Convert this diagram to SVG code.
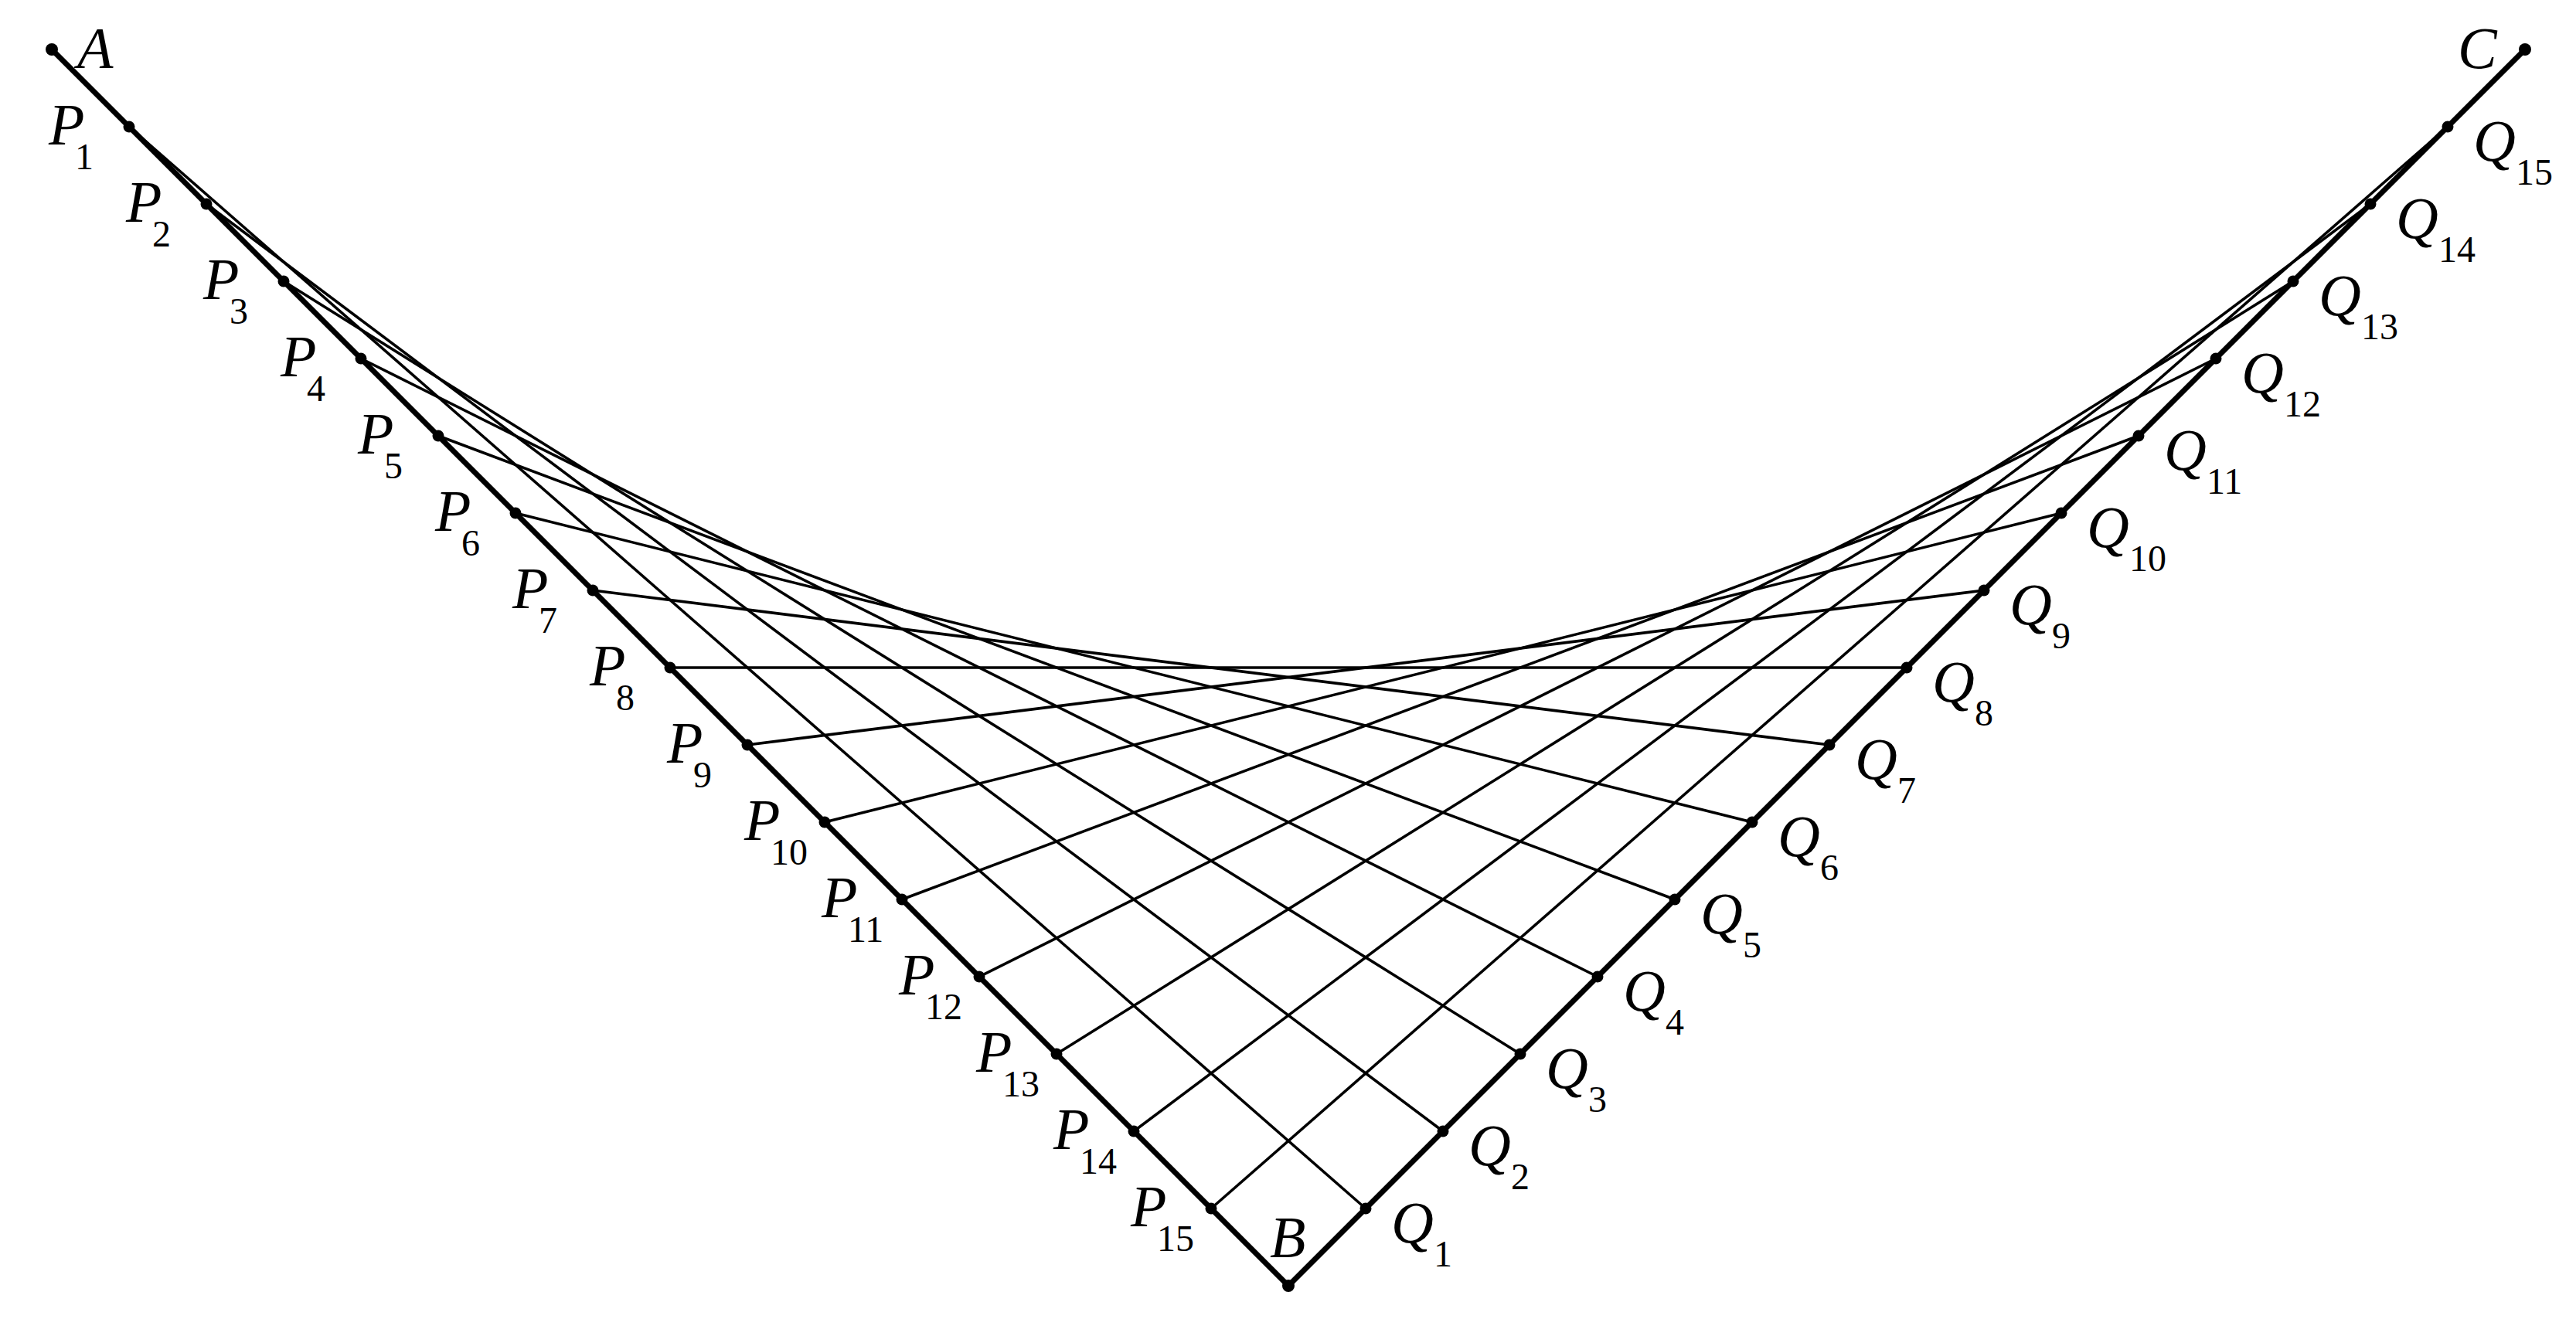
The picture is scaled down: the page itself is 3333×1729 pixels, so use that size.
<svg xmlns="http://www.w3.org/2000/svg" width="3333" height="1729" viewBox="0 0 3333 1729">
<style>
.thin{stroke:#000;stroke-width:3.5;fill:none}
.thick{stroke:#000;stroke-width:7;fill:none;stroke-linejoin:miter}
.dot{fill:#000}
text{font-family:'Liberation Serif',serif;font-style:italic;font-size:76px;fill:#000}
.sub{font-style:normal;font-size:48px}
</style>
<rect width="3333" height="1729" fill="#fff"/>
<g id="connectors">
<line class="thin" x1="167" y1="164" x2="1767" y2="1564"/>
<line class="thin" x1="267" y1="264" x2="1867" y2="1464"/>
<line class="thin" x1="367" y1="364" x2="1967" y2="1364"/>
<line class="thin" x1="467" y1="464" x2="2067" y2="1264"/>
<line class="thin" x1="567" y1="564" x2="2167" y2="1164"/>
<line class="thin" x1="667" y1="664" x2="2267" y2="1064"/>
<line class="thin" x1="767" y1="764" x2="2367" y2="964"/>
<line class="thin" x1="867" y1="864" x2="2467" y2="864"/>
<line class="thin" x1="967" y1="964" x2="2567" y2="764"/>
<line class="thin" x1="1067" y1="1064" x2="2667" y2="664"/>
<line class="thin" x1="1167" y1="1164" x2="2767" y2="564"/>
<line class="thin" x1="1267" y1="1264" x2="2867" y2="464"/>
<line class="thin" x1="1367" y1="1364" x2="2967" y2="364"/>
<line class="thin" x1="1467" y1="1464" x2="3067" y2="264"/>
<line class="thin" x1="1567" y1="1564" x2="3167" y2="164"/>
<polyline class="thick" points="67,64 1667,1664 3267,64"/>
</g>
<g id="A"><circle class="dot" cx="67" cy="64" r="8"/><text x="100" y="88">A</text></g>
<g id="B"><circle class="dot" cx="1667" cy="1664" r="8"/><text x="1643" y="1627">B</text></g>
<g id="C"><circle class="dot" cx="3267" cy="64" r="8"/><text x="3180" y="88">C</text></g>
<g id="P1"><circle class="dot" cx="167" cy="164" r="7.5"/><text x="63" y="187">P<tspan class="sub" x="97" dy="32">1</tspan></text></g>
<g id="P2"><circle class="dot" cx="267" cy="264" r="7.5"/><text x="163" y="287">P<tspan class="sub" x="197" dy="32">2</tspan></text></g>
<g id="P3"><circle class="dot" cx="367" cy="364" r="7.5"/><text x="263" y="387">P<tspan class="sub" x="297" dy="32">3</tspan></text></g>
<g id="P4"><circle class="dot" cx="467" cy="464" r="7.5"/><text x="363" y="487">P<tspan class="sub" x="397" dy="32">4</tspan></text></g>
<g id="P5"><circle class="dot" cx="567" cy="564" r="7.5"/><text x="463" y="587">P<tspan class="sub" x="497" dy="32">5</tspan></text></g>
<g id="P6"><circle class="dot" cx="667" cy="664" r="7.5"/><text x="563" y="687">P<tspan class="sub" x="597" dy="32">6</tspan></text></g>
<g id="P7"><circle class="dot" cx="767" cy="764" r="7.5"/><text x="663" y="787">P<tspan class="sub" x="697" dy="32">7</tspan></text></g>
<g id="P8"><circle class="dot" cx="867" cy="864" r="7.5"/><text x="763" y="887">P<tspan class="sub" x="797" dy="32">8</tspan></text></g>
<g id="P9"><circle class="dot" cx="967" cy="964" r="7.5"/><text x="863" y="987">P<tspan class="sub" x="897" dy="32">9</tspan></text></g>
<g id="P10"><circle class="dot" cx="1067" cy="1064" r="7.5"/><text x="963" y="1087">P<tspan class="sub" x="997" dy="32">10</tspan></text></g>
<g id="P11"><circle class="dot" cx="1167" cy="1164" r="7.5"/><text x="1063" y="1187">P<tspan class="sub" x="1097" dy="32">11</tspan></text></g>
<g id="P12"><circle class="dot" cx="1267" cy="1264" r="7.5"/><text x="1163" y="1287">P<tspan class="sub" x="1197" dy="32">12</tspan></text></g>
<g id="P13"><circle class="dot" cx="1367" cy="1364" r="7.5"/><text x="1263" y="1387">P<tspan class="sub" x="1297" dy="32">13</tspan></text></g>
<g id="P14"><circle class="dot" cx="1467" cy="1464" r="7.5"/><text x="1363" y="1487">P<tspan class="sub" x="1397" dy="32">14</tspan></text></g>
<g id="P15"><circle class="dot" cx="1567" cy="1564" r="7.5"/><text x="1463" y="1587">P<tspan class="sub" x="1497" dy="32">15</tspan></text></g>
<g id="Q1"><circle class="dot" cx="1767" cy="1564" r="7.5"/><text x="1800" y="1608">Q<tspan class="sub" x="1855" dy="31">1</tspan></text></g>
<g id="Q2"><circle class="dot" cx="1867" cy="1464" r="7.5"/><text x="1900" y="1508">Q<tspan class="sub" x="1955" dy="31">2</tspan></text></g>
<g id="Q3"><circle class="dot" cx="1967" cy="1364" r="7.5"/><text x="2000" y="1408">Q<tspan class="sub" x="2055" dy="31">3</tspan></text></g>
<g id="Q4"><circle class="dot" cx="2067" cy="1264" r="7.5"/><text x="2100" y="1308">Q<tspan class="sub" x="2155" dy="31">4</tspan></text></g>
<g id="Q5"><circle class="dot" cx="2167" cy="1164" r="7.5"/><text x="2200" y="1208">Q<tspan class="sub" x="2255" dy="31">5</tspan></text></g>
<g id="Q6"><circle class="dot" cx="2267" cy="1064" r="7.5"/><text x="2300" y="1108">Q<tspan class="sub" x="2355" dy="31">6</tspan></text></g>
<g id="Q7"><circle class="dot" cx="2367" cy="964" r="7.5"/><text x="2400" y="1008">Q<tspan class="sub" x="2455" dy="31">7</tspan></text></g>
<g id="Q8"><circle class="dot" cx="2467" cy="864" r="7.5"/><text x="2500" y="908">Q<tspan class="sub" x="2555" dy="31">8</tspan></text></g>
<g id="Q9"><circle class="dot" cx="2567" cy="764" r="7.5"/><text x="2600" y="808">Q<tspan class="sub" x="2655" dy="31">9</tspan></text></g>
<g id="Q10"><circle class="dot" cx="2667" cy="664" r="7.5"/><text x="2700" y="708">Q<tspan class="sub" x="2755" dy="31">10</tspan></text></g>
<g id="Q11"><circle class="dot" cx="2767" cy="564" r="7.5"/><text x="2800" y="608">Q<tspan class="sub" x="2855" dy="31">11</tspan></text></g>
<g id="Q12"><circle class="dot" cx="2867" cy="464" r="7.5"/><text x="2900" y="508">Q<tspan class="sub" x="2955" dy="31">12</tspan></text></g>
<g id="Q13"><circle class="dot" cx="2967" cy="364" r="7.5"/><text x="3000" y="408">Q<tspan class="sub" x="3055" dy="31">13</tspan></text></g>
<g id="Q14"><circle class="dot" cx="3067" cy="264" r="7.5"/><text x="3100" y="308">Q<tspan class="sub" x="3155" dy="31">14</tspan></text></g>
<g id="Q15"><circle class="dot" cx="3167" cy="164" r="7.5"/><text x="3200" y="208">Q<tspan class="sub" x="3255" dy="31">15</tspan></text></g>
</svg>
